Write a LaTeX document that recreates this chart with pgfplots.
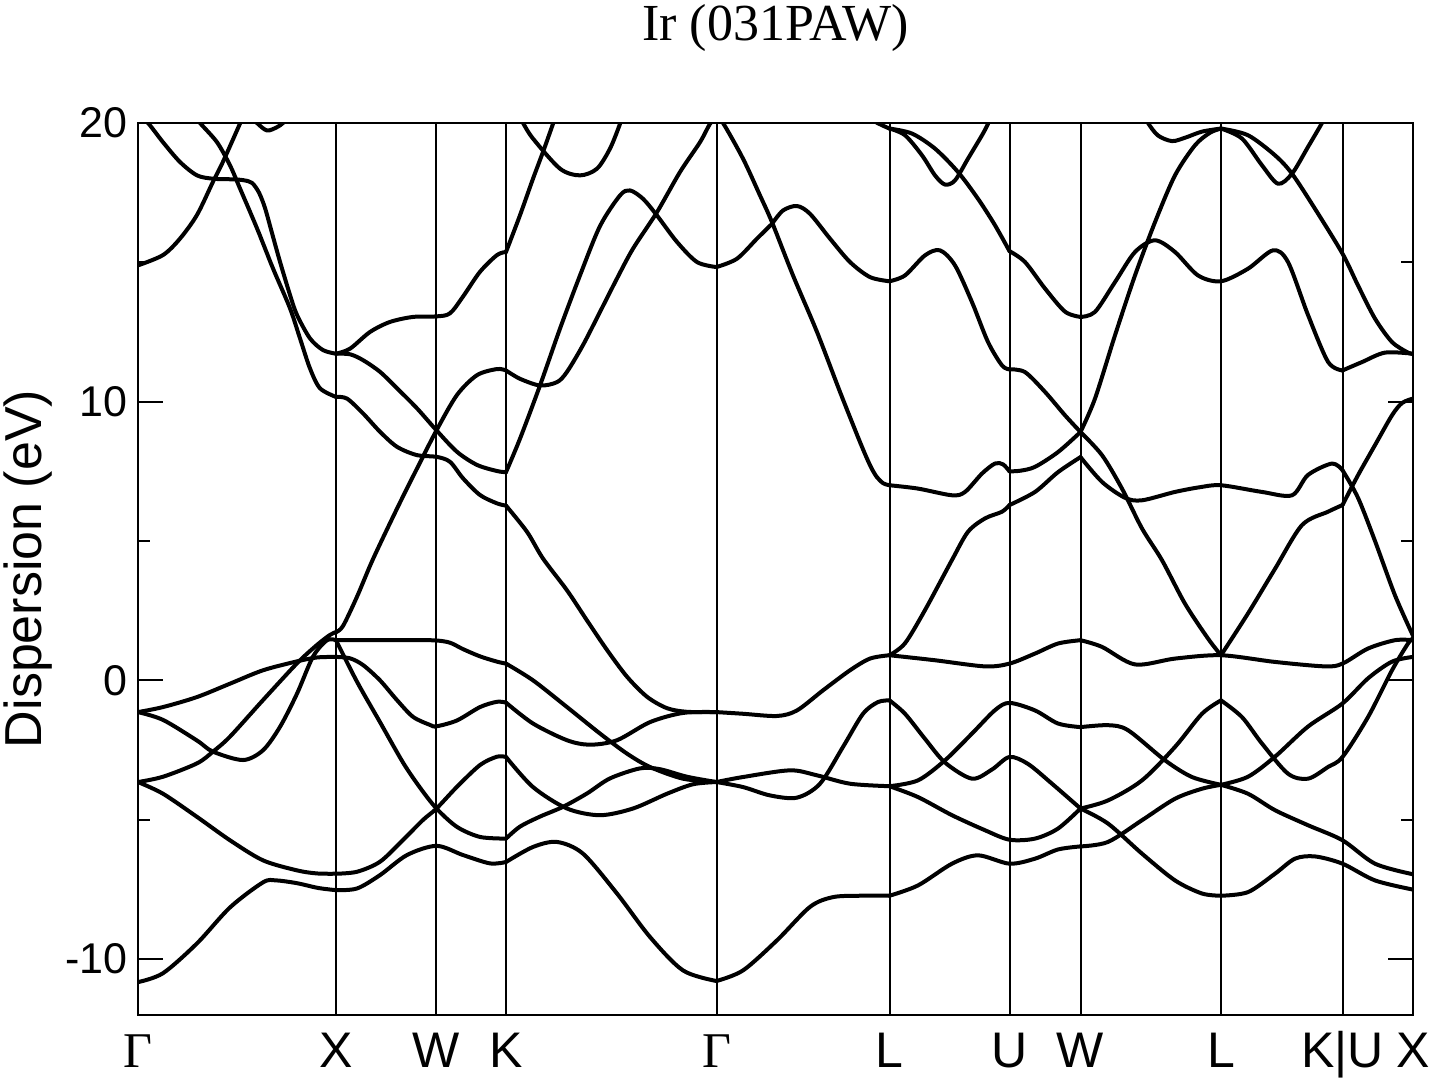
\documentclass[border=0pt]{standalone}
\usepackage{fontspec}
\setmainfont{Liberation Sans}
\newfontfamily\seriffont{Liberation Serif}
\usepackage{pgfplots}
\pgfplotsset{compat=1.18}
\pgfplotsset{band/.style={black, line width=2pt, smooth, mark=none, line join=round, line cap=round}}
\begin{document}
\begin{tikzpicture}
\useasboundingbox (-69pt,-32.65pt) rectangle (646.5pt,507.37pt);
\begin{axis}[
  at={(0,0)}, anchor=south west,
  x=0.5pt, y=13.9335pt,
  xmin=138, xmax=1413, ymin=-12, ymax=20,
  axis line style={line width=1.2pt},
  xtick={138,336,436.5,506,716.5,889.5,1009.5,1080.5,1221,1342.5,1413},
  xticklabels={{\seriffont Γ},X,W,K,{\seriffont Γ},L,U,W,L,K|U,X},
  xmajorgrids, grid style={black, line width=1pt},
  ytick={-10,0,10,20}, yticklabels={-10,0,10,20},
  minor ytick={-5,5,15},
  tick align=inside,
  major tick length=12.5pt, minor tick length=6pt,
  tick style={black, line width=1pt},
  xticklabel style={font=\fontsize{25}{30}\selectfont, anchor=base, yshift=-26.5pt, inner sep=0pt},
  yticklabel style={font=\fontsize{21.5}{26}\selectfont, anchor=east, inner sep=0pt, xshift=-5pt},
  title={Ir (031PAW)},
  title style={font=\seriffont\fontsize{26}{30}\selectfont, at={(axis description cs:0.5,1)}, anchor=base, yshift=35pt, inner sep=0pt},
  ylabel={Dispersion (eV)},
  ylabel style={font=\fontsize{26}{30}\selectfont, at={(axis description cs:-0.0755,0.5)}, anchor=base, inner sep=0pt},
]
% Gamma - X
\addplot[band] coordinates {(138,-10.83) (163,-10.51) (197,-9.44) (230,-8.15) (263,-7.25) (276,-7.18) (297,-7.28) (318,-7.45) (336,-7.53)};
\addplot[band] coordinates {(138,-3.65) (163,-4.07) (197,-4.90) (230,-5.74) (263,-6.46) (297,-6.82) (317,-6.93) (336,-6.94)};
\addplot[band] coordinates {(138,-3.65) (163,-3.46) (197,-2.98) (213,-2.56) (230,-2.02) (263,-0.71) (297,0.61) (317,1.27) (330,1.63) (336,1.73)};
\addplot[band] coordinates {(138,-1.14) (163,-1.42) (197,-2.16) (213,-2.56) (243,-2.86) (263,-2.51) (280,-1.67) (297,-0.48) (313,0.85) (327,1.44) (336,1.44)};
\addplot[band] coordinates {(138,-1.14) (163,-0.96) (197,-0.60) (230,-0.12) (263,0.36) (297,0.68) (317,0.82) (336,0.84)};
\addplot[band] coordinates {(138,14.89) (163,15.26) (180,15.85) (197,16.70) (213,17.89) (223,18.61) (240,19.98) (246,20.5)};
\addplot[band] coordinates {(138,20.3) (148,20.0) (163,19.31) (180,18.60) (197,18.12) (213,18.0) (230,17.98) (243,17.95) (252,17.85) (259,17.5) (265,16.95) (272,16.05) (280,15.02) (290,13.83) (297,13.11) (310,12.27) (323,11.85) (336,11.72)};
\addplot[band] coordinates {(194,20.3) (200,20.0) (217,19.31) (230,18.48) (240,17.65) (257,16.22) (273,14.78) (290,13.35) (300,12.27) (310,11.19) (320,10.48) (336,10.17)};
\addplot[band] coordinates {(250,20.3) (257,20.0) (267,19.73) (277,19.85) (283,20.0) (290,20.3)};
% X - W - K
\addplot[band] coordinates {(336,11.72) (350,11.90) (370,12.50) (390,12.86) (413,13.04) (436.5,13.06) (450,13.17) (463,13.77) (480,14.66) (497,15.26) (506,15.37)};
\addplot[band] coordinates {(336,11.72) (350,11.70) (363,11.49) (380,11.07) (397,10.48) (417,9.76) (436.5,8.97) (457,8.20) (477,7.73) (497,7.51) (506,7.47)};
\addplot[band] coordinates {(336,10.17) (347,10.11) (363,9.58) (380,8.92) (397,8.38) (417,8.08) (436.5,8.02) (450,7.84) (463,7.25) (480,6.65) (497,6.35) (506,6.27)};
\addplot[band] coordinates {(336,1.73) (343,1.95) (357,3.0) (373,4.35) (397,6.16) (417,7.6) (436.5,8.97) (457,10.24) (477,10.95) (497,11.17) (506,11.12)};
\addplot[band] coordinates {(336,1.44) (380,1.44) (420,1.44) (436.5,1.43) (450,1.35) (463,1.12) (480,0.86) (497,0.67) (506,0.60)};
\addplot[band] coordinates {(336,1.44) (357,-0.05) (380,-1.5) (403,-2.95) (420,-3.85) (436.5,-4.60) (457,-5.26) (480,-5.62) (506,-5.68)};
\addplot[band] coordinates {(336,0.84) (350,0.79) (363,0.55) (380,0.0) (397,-0.71) (413,-1.31) (430,-1.60) (436.5,-1.65) (457,-1.44) (480,-0.96) (497,-0.77) (506,-0.80)};
\addplot[band] coordinates {(336,-6.94) (357,-6.87) (380,-6.51) (403,-5.73) (423,-5.01) (436.5,-4.60) (457,-3.82) (480,-3.04) (497,-2.74) (506,-2.75)};
\addplot[band] coordinates {(336,-7.53) (357,-7.47) (380,-6.99) (407,-6.27) (436.5,-5.94) (463,-6.27) (490,-6.57) (506,-6.52)};
% K - Gamma
\addplot[band] coordinates {(506,15.37) (520,16.69) (533,18.0) (543,18.96) (553,19.97) (556,20.3)};
\addplot[band] coordinates {(515,20.5) (523,20.0) (533,19.44) (560,18.36) (580,18.12) (597,18.36) (610,19.08) (620,19.97) (623,20.4)};
\addplot[band] coordinates {(506,11.12) (520,10.82) (540,10.58) (557,10.70) (567,11.07) (583,12.03) (600,13.22) (617,14.42) (633,15.49) (657,16.80) (680,18.24) (700,19.31) (710,19.97) (716.5,20.2)};
\addplot[band] coordinates {(506,7.47) (520,8.67) (540,10.58) (560,12.62) (580,14.53) (600,16.3) (620,17.40) (630,17.58) (643,17.28) (657,16.68) (677,15.73) (697,15.01) (716.5,14.83)};
\addplot[band] coordinates {(506,6.27) (527,5.33) (543,4.37) (567,3.23) (587,2.15) (607,1.09) (627,0.13) (647,-0.59) (667,-1.0) (687,-1.13) (716.5,-1.14)};
\addplot[band] coordinates {(506,0.60) (533,0.0) (567,-0.96) (600,-1.91) (627,-2.63) (650,-3.11) (683,-3.53) (716.5,-3.65)};
\addplot[band] coordinates {(506,-0.80) (533,-1.55) (567,-2.15) (590,-2.31) (617,-2.15) (650,-1.50) (683,-1.17) (716.5,-1.14)};
\addplot[band] coordinates {(506,-2.75) (533,-3.83) (567,-4.60) (600,-4.84) (633,-4.60) (667,-4.07) (693,-3.73) (716.5,-3.65)};
\addplot[band] coordinates {(506,-5.68) (520,-5.25) (540,-4.89) (563,-4.54) (587,-4.06) (610,-3.52) (640,-3.16) (660,-3.19) (687,-3.46) (716.5,-3.65)};
\addplot[band] coordinates {(506,-6.52) (533,-5.98) (557,-5.80) (583,-6.22) (617,-7.65) (650,-9.21) (683,-10.41) (716.5,-10.79)};
% Gamma - L
\addplot[band] coordinates {(716.5,20.2) (723,20.0) (743,18.72) (760,17.40) (772,16.44) (793,14.53) (817,12.50) (840,10.35) (860,8.55) (870,7.72) (876.7,7.30) (883.3,7.07) (889.5,7.0)};
\addplot[band] coordinates {(716.5,14.83) (737,15.13) (757,15.85) (772,16.38)};
\addplot[band] coordinates {(772,16.38) (783,16.86) (797,17.02) (810,16.74) (830,15.85) (850,15.01) (870,14.47) (889.5,14.32)};
\addplot[band] coordinates {(716.5,-1.14) (743,-1.20) (777,-1.28) (797,-1.08) (823,-0.36) (850,0.36) (870,0.78) (889.5,0.90)};
\addplot[band] coordinates {(716.5,-3.65) (743,-3.47) (790,-3.23) (817,-3.41) (850,-3.71) (889.5,-3.80)};
\addplot[band] coordinates {(716.5,-3.65) (743,-3.83) (770,-4.13) (797,-4.21) (820,-3.71) (843,-2.39) (863,-1.20) (878,-0.78) (889.5,-0.72)};
\addplot[band] coordinates {(716.5,-10.79) (743,-10.41) (777,-9.33) (810,-8.13) (833,-7.78) (860,-7.73) (889.5,-7.73)};
\addplot[band] coordinates {(865,20.4) (875,20.05) (889.5,19.8)};
% L - U - W
\addplot[band] coordinates {(889.5,19.8) (905,19.56) (922,18.84) (935,18.12) (945,17.79) (955,17.94) (968,18.72) (982,19.56) (988,19.97) (991,20.3)};
\addplot[band] coordinates {(889.5,19.8) (912,19.62) (935,19.08) (958,18.24) (978,17.28) (995,16.33) (1009.5,15.4)};
\addplot[band] coordinates {(1009.5,15.4) (1025,15.01) (1045,14.06) (1065,13.23) (1080.5,13.04)};
\addplot[band] coordinates {(889.5,14.32) (905,14.53) (925,15.25) (940,15.43) (955,14.89) (972,13.57) (988,12.14) (1002,11.30) (1009.5,11.16)};
\addplot[band] coordinates {(1009.5,11.16) (1025,11.06) (1045,10.35) (1065,9.51) (1080.5,8.91)};
\addplot[band] coordinates {(889.5,7.0) (918,6.88) (952,6.64) (965,6.76) (982,7.42) (995,7.78) (1003,7.75) (1009.5,7.5)};
\addplot[band] coordinates {(1009.5,7.50) (1020,7.52) (1035,7.66) (1058,8.19) (1080.5,8.91)};
\addplot[band] coordinates {(889.5,0.90) (905,1.33) (925,2.52) (952,4.32) (968,5.33) (985,5.81) (1002,6.05) (1009.5,6.29)};
\addplot[band] coordinates {(1009.5,6.29) (1035,6.76) (1058,7.47) (1080.5,8.01)};
\addplot[band] coordinates {(889.5,0.90) (935,0.72) (985,0.50) (1009.5,0.60) (1035,0.96) (1058,1.32) (1080.5,1.44)};
\addplot[band] coordinates {(889.5,-0.72) (905,-1.2) (925,-2.1) (945,-2.95) (972,-3.53) (992,-3.2) (1009.5,-2.75) (1028,-3.0) (1052,-3.71) (1080.5,-4.60)};
\addplot[band] coordinates {(889.5,-3.80) (918,-3.59) (945,-2.87) (972,-1.91) (995,-1.07) (1009.5,-0.81) (1035,-1.08) (1058,-1.55) (1080.5,-1.68)};
\addplot[band] coordinates {(889.5,-3.80) (918,-4.19) (952,-4.84) (985,-5.38) (1009.5,-5.72) (1035,-5.68) (1058,-5.32) (1080.5,-4.60)};
\addplot[band] coordinates {(889.5,-7.73) (918,-7.36) (952,-6.58) (978,-6.28) (1009.5,-6.58) (1035,-6.40) (1058,-6.07) (1080.5,-5.96)};
% W - L
\addplot[band] coordinates {(1145,20.3) (1148,20.0) (1158,19.55) (1172,19.35) (1185,19.47) (1202,19.69) (1221,19.8)};
\addplot[band] coordinates {(1080.5,8.91) (1095,10.11) (1115,12.38) (1135,14.53) (1155,16.44) (1175,18.12) (1195,19.20) (1210,19.65) (1221,19.8)};
\addplot[band] coordinates {(1080.5,13.04) (1095,13.22) (1115,14.29) (1135,15.37) (1155,15.79) (1175,15.37) (1198,14.53) (1221,14.32) (1248,14.77) (1273,15.43) (1288,15.01) (1308,13.11) (1328,11.43) (1342.5,11.12)};
\addplot[band] coordinates {(1342.5,11.12) (1362,11.42) (1385,11.76) (1413,11.72)};
\addplot[band] coordinates {(1080.5,8.91) (1102,8.08) (1122,6.88) (1142,5.45) (1162,4.31) (1185,2.75) (1208,1.5) (1221,0.90)};
\addplot[band] coordinates {(1080.5,8.01) (1102,7.12) (1125,6.55) (1142,6.46) (1175,6.76) (1200,6.93) (1221,7.0) (1262,6.76) (1292,6.64) (1308,7.37) (1332,7.78) (1342.5,7.54)};
\addplot[band] coordinates {(1342.5,7.54) (1358,6.55) (1375,5.0) (1395,3.05) (1413,1.6)};
\addplot[band] coordinates {(1080.5,1.44) (1102,1.20) (1135,0.57) (1175,0.78) (1221,0.90) (1275,0.66) (1325,0.50) (1342.5,0.60) (1368,1.14) (1395,1.44) (1413,1.44)};
\addplot[band] coordinates {(1080.5,-1.68) (1108,-1.61) (1128,-1.79) (1165,-2.87) (1192,-3.47) (1221,-3.75)};
\addplot[band] coordinates {(1221,-3.75) (1248,-3.46) (1275,-2.74) (1308,-1.66) (1342.5,-0.83) (1368,0.07) (1392,0.67) (1413,0.84)};
\addplot[band] coordinates {(1080.5,-4.60) (1108,-4.31) (1142,-3.59) (1175,-2.39) (1202,-1.20) (1221,-0.72)};
\addplot[band] coordinates {(1221,-0.72) (1242,-1.32) (1262,-2.27) (1288,-3.35) (1308,-3.53) (1328,-3.11) (1342.5,-2.75) (1368,-1.32) (1392,0.36) (1408,1.32) (1413,1.5)};
\addplot[band] coordinates {(1080.5,-4.60) (1108,-5.14) (1142,-6.22) (1175,-7.18) (1202,-7.65) (1221,-7.73)};
\addplot[band] coordinates {(1221,-7.73) (1248,-7.60) (1275,-6.94) (1295,-6.40) (1315,-6.32) (1342.5,-6.58) (1375,-7.18) (1413,-7.51)};
\addplot[band] coordinates {(1080.5,-5.96) (1108,-5.80) (1142,-5.02) (1175,-4.25) (1202,-3.89) (1221,-3.75)};
\addplot[band] coordinates {(1221,-3.75) (1248,-4.07) (1275,-4.66) (1308,-5.20) (1342.5,-5.74) (1375,-6.58) (1413,-6.96)};
% L - K|U - X
\addplot[band] coordinates {(1221,0.90) (1248,2.40) (1275,4.0) (1302,5.57) (1328,6.05) (1342.5,6.29)};
\addplot[band] coordinates {(1342.5,6.29) (1358,7.36) (1375,8.44) (1392,9.51) (1402,9.95) (1413,10.11)};
\addplot[band] coordinates {(1221,19.8) (1248,19.56) (1275,18.84) (1292,18.18) (1315,16.92) (1342.5,15.31) (1358,14.17) (1375,12.98) (1392,12.14) (1408,11.76) (1413,11.72)};
\addplot[band] coordinates {(1221,19.8) (1242,19.44) (1262,18.48) (1278,17.82) (1292,18.18) (1308,19.14) (1322,20.0) (1326,20.3)};
\end{axis}
\end{tikzpicture}
\end{document}
